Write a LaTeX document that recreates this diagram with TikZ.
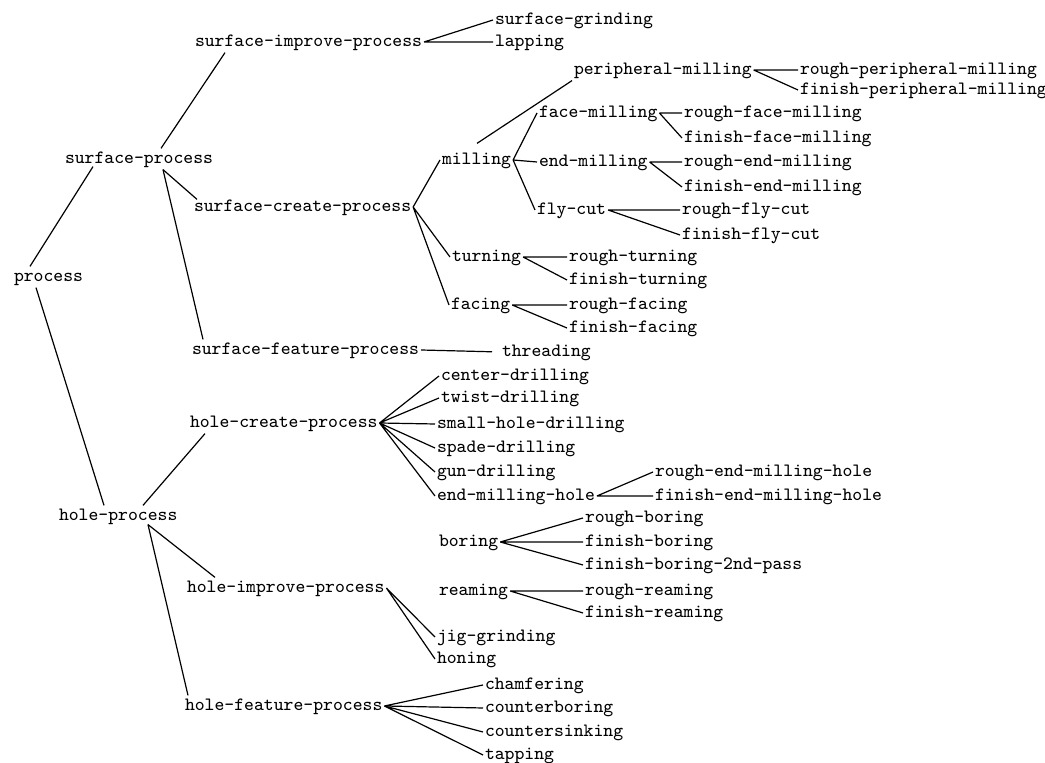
\documentclass[tikz,border=0pt]{standalone}
\usepackage{tikz}
\usetikzlibrary{calc}
\tikzset{
  term/.style={anchor=west, inner sep=0pt, outer sep=1pt, text height=1.5ex, text depth=0.5ex, font=\fontsize{9.4}{11}\selectfont\ttfamily},
  link/.style={line width=0.6pt},
}

\begin{document}
\begin{tikzpicture}[x=0.5pt, y=-0.5pt]
  \useasboundingbox (0,0) rectangle (1045,763);

  % Nodes: surface side
  \node[term] (proc) at (12,277) {process};
  \node[term] (sp) at (63,159) {surface-process};
  \node[term] (sip) at (193,42) {surface-improve-process};
  \node[term] (sgr) at (493,20) {surface-grinding};
  \node[term] (lap) at (493,42) {lapping};
  \node[term] (scp) at (192,207) {surface-create-process};
  \node[term] (mill) at (440,160) {milling};
  \node[term] (pmill) at (572,70) {peripheral-milling};
  \node[term] (rpmill) at (798,70) {rough-peripheral-milling};
  \node[term] (fpmill) at (798,90) {finish-peripheral-milling};
  \node[term] (fmill) at (537,113) {face-milling};
  \node[term] (rfmill) at (682,113) {rough-face-milling};
  \node[term] (ffmill) at (682,138) {finish-face-milling};
  \node[term] (emill) at (537,162) {end-milling};
  \node[term] (remill) at (682,162) {rough-end-milling};
  \node[term] (femill) at (682,187) {finish-end-milling};
  \node[term] (fly) at (535,210) {fly-cut};
  \node[term] (rfly) at (680,210) {rough-fly-cut};
  \node[term] (ffly) at (680,235) {finish-fly-cut};
  \node[term] (turn) at (450,257) {turning};
  \node[term] (rturn) at (567,257) {rough-turning};
  \node[term] (fturn) at (567,280) {finish-turning};
  \node[term] (face) at (449,305) {facing};
  \node[term] (rface) at (567,305) {rough-facing};
  \node[term] (fface) at (567,328) {finish-facing};
  \node[term] (sfp) at (190,350) {surface-feature-process};
  \node[term] (thread) at (500,352) {threading};

  % Nodes: hole side
  \node[term] (hp) at (57,516) {hole-process};
  \node[term] (hcp) at (188,423) {hole-create-process};
  \node[term] (cdr) at (439,376) {center-drilling};
  \node[term] (tdr) at (439,398) {twist-drilling};
  \node[term] (shdr) at (435,424) {small-hole-drilling};
  \node[term] (sdr) at (435,448) {spade-drilling};
  \node[term] (gdr) at (435,472) {gun-drilling};
  \node[term] (emh) at (435,496) {end-milling-hole};
  \node[term] (remh) at (653,472) {rough-end-milling-hole};
  \node[term] (femh) at (653,496) {finish-end-milling-hole};
  \node[term] (bore) at (437,542) {boring};
  \node[term] (rbore) at (583,518) {rough-boring};
  \node[term] (fbore) at (583,542) {finish-boring};
  \node[term] (fbore2) at (583,565) {finish-boring-2nd-pass};
  \node[term] (ream) at (437,591) {reaming};
  \node[term] (rream) at (583,591) {rough-reaming};
  \node[term] (fream) at (583,613) {finish-reaming};
  \node[term] (hip) at (185,588) {hole-improve-process};
  \node[term] (jig) at (435,637) {jig-grinding};
  \node[term] (hone) at (435,659) {honing};
  \node[term] (hfp) at (183,706) {hole-feature-process};
  \node[term] (chamf) at (483,685) {chamfering};
  \node[term] (cbore) at (483,708) {counterboring};
  \node[term] (csink) at (483,732) {countersinking};
  \node[term] (tap) at (483,755) {tapping};

  % Left branches (lines meet the words themselves)
  \draw[link] ($(proc.north west)+(18,0)$) -- ($(sp.south west)+(30,-3)$);
  \draw[link] ($(proc.south west)+(24,0)$) -- ($(hp.north west)+(47,0)$);
  \draw[link] ($(sp.north west)+(98,0)$) -- ($(sip.south west)+(32,0)$);
  \draw[link] ($(sp.south west)+(100,0)$) -- ($(scp.north west)+(5,3)$);
  \draw[link] ($(sp.south west)+(100,0)$) -- ($(sfp.north west)+(13,0)$);
  \draw[link] ($(hp.north west)+(86,0)$) -- ($(hcp.south west)+(17,0)$);
  \draw[link] ($(hp.south west)+(91,-2)$) -- ($(hip.north west)+(30,0)$);
  \draw[link] ($(hp.south west)+(91,-2)$) -- ($(hfp.north west)+(5,0)$);

  % Surface process children
  \draw[link] (sip.east) -- (sgr.west) (sip.east) -- (lap.west);
  \draw[link] (scp.east) -- (mill.west) (scp.east) -- (turn.west) (scp.east) -- (face.west);
  \draw[link] ($(mill.north west)+(37,-6)$) -- (pmill.south west);
  \draw[link] (mill.east) -- (fmill.west) (mill.east) -- (emill.west) (mill.east) -- (fly.west);
  \draw[link] (pmill.east) -- (rpmill.west) (pmill.east) -- (fpmill.west);
  \draw[link] (fmill.east) -- (rfmill.west) (fmill.east) -- (ffmill.west);
  \draw[link] (emill.east) -- (remill.west) (emill.east) -- (femill.west);
  \draw[link] (fly.east) -- (rfly.west) (fly.east) -- (ffly.west);
  \draw[link] (turn.east) -- (rturn.west) (turn.east) -- (fturn.west);
  \draw[link] (face.east) -- (rface.west) (face.east) -- (fface.west);
  \draw[link, shorten >=4pt] (sfp.east) -- (thread.west);

  % Hole process children
  \draw[link] (hcp.east) -- (cdr.west) (hcp.east) -- (tdr.west) (hcp.east) -- (shdr.west);
  \draw[link] (hcp.east) -- (sdr.west) (hcp.east) -- (gdr.west) (hcp.east) -- (emh.west);
  \draw[link] (emh.east) -- (remh.west) (emh.east) -- (femh.west);
  \draw[link] (bore.east) -- (rbore.west) (bore.east) -- (fbore.west) (bore.east) -- (fbore2.west);
  \draw[link] (ream.east) -- (rream.west) (ream.east) -- (fream.west);
  \draw[link] (hip.east) -- (jig.west) (hip.east) -- (hone.west);
  \draw[link] (hfp.east) -- (chamf.west) (hfp.east) -- (cbore.west);
  \draw[link] (hfp.east) -- (csink.west) (hfp.east) -- (tap.west);

\end{tikzpicture}
\end{document}
